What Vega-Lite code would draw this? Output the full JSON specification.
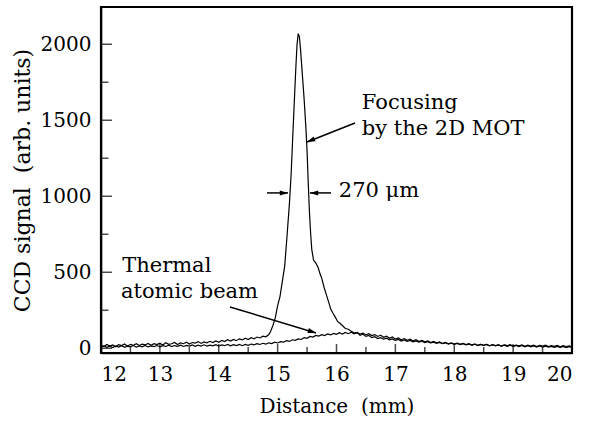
{
  "$schema": "https://vega.github.io/schema/vega-lite/v6.json",
  "width": 471,
  "height": 346,
  "autosize": {"type": "none"},
  "padding": {"left": 101, "top": 7, "right": 18, "bottom": 76},
  "background": "white",
  "config": {
    "view": {"stroke": "black", "strokeWidth": 2.2},
    "axis": {
      "labelFont": "DejaVu Serif", "titleFont": "DejaVu Serif",
      "labelFontSize": 20, "titleFontSize": 20, "titleFontWeight": "normal",
      "labelColor": "black", "titleColor": "black", "ticks": false, "tickSize": 0,
      "domainColor": "black", "domainWidth": 1.5, "grid": false, "labelOverlap": false
    }
  },
  "datasets": {
    "curves": [
      {"x":12.00,"y":20,"s":"F"},{"x":12.05,"y":12,"s":"F"},{"x":12.10,"y":25,"s":"F"},{"x":12.15,"y":15,"s":"F"},{"x":12.20,"y":22,"s":"F"},{"x":12.25,"y":10,"s":"F"},{"x":12.30,"y":24,"s":"F"},{"x":12.35,"y":18,"s":"F"},{"x":12.40,"y":28,"s":"F"},{"x":12.45,"y":14,"s":"F"},{"x":12.50,"y":26,"s":"F"},{"x":12.55,"y":20,"s":"F"},{"x":12.60,"y":30,"s":"F"},{"x":12.65,"y":18,"s":"F"},{"x":12.70,"y":27,"s":"F"},{"x":12.75,"y":22,"s":"F"},{"x":12.80,"y":32,"s":"F"},{"x":12.85,"y":20,"s":"F"},{"x":12.90,"y":30,"s":"F"},{"x":12.95,"y":24,"s":"F"},{"x":13.00,"y":34,"s":"F"},{"x":13.05,"y":22,"s":"F"},{"x":13.10,"y":36,"s":"F"},{"x":13.15,"y":26,"s":"F"},{"x":13.20,"y":30,"s":"F"},{"x":13.25,"y":38,"s":"F"},{"x":13.30,"y":25,"s":"F"},{"x":13.35,"y":36,"s":"F"},{"x":13.40,"y":30,"s":"F"},{"x":13.45,"y":40,"s":"F"},{"x":13.50,"y":28,"s":"F"},{"x":13.55,"y":38,"s":"F"},{"x":13.60,"y":34,"s":"F"},{"x":13.65,"y":44,"s":"F"},{"x":13.70,"y":32,"s":"F"},{"x":13.75,"y":42,"s":"F"},{"x":13.80,"y":36,"s":"F"},{"x":13.85,"y":46,"s":"F"},{"x":13.90,"y":38,"s":"F"},{"x":13.95,"y":48,"s":"F"},{"x":14.00,"y":40,"s":"F"},{"x":14.05,"y":52,"s":"F"},{"x":14.10,"y":44,"s":"F"},{"x":14.15,"y":56,"s":"F"},{"x":14.20,"y":48,"s":"F"},{"x":14.25,"y":58,"s":"F"},{"x":14.30,"y":50,"s":"F"},{"x":14.35,"y":62,"s":"F"},{"x":14.40,"y":55,"s":"F"},{"x":14.45,"y":66,"s":"F"},{"x":14.50,"y":58,"s":"F"},{"x":14.55,"y":70,"s":"F"},{"x":14.60,"y":62,"s":"F"},{"x":14.65,"y":74,"s":"F"},{"x":14.70,"y":68,"s":"F"},{"x":14.75,"y":80,"s":"F"},{"x":14.80,"y":76,"s":"F"},{"x":14.85,"y":90,"s":"F"},{"x":14.88,"y":110,"s":"F"},{"x":14.92,"y":150,"s":"F"},{"x":14.96,"y":200,"s":"F"},{"x":15.00,"y":280,"s":"F"},{"x":15.04,"y":340,"s":"F"},{"x":15.08,"y":440,"s":"F"},{"x":15.12,"y":540,"s":"F"},{"x":15.16,"y":740,"s":"F"},{"x":15.20,"y":950,"s":"F"},{"x":15.23,"y":1150,"s":"F"},{"x":15.26,"y":1420,"s":"F"},{"x":15.29,"y":1680,"s":"F"},{"x":15.31,"y":1850,"s":"F"},{"x":15.33,"y":2000,"s":"F"},{"x":15.35,"y":2070,"s":"F"},{"x":15.37,"y":2050,"s":"F"},{"x":15.39,"y":1960,"s":"F"},{"x":15.42,"y":1800,"s":"F"},{"x":15.45,"y":1640,"s":"F"},{"x":15.48,"y":1450,"s":"F"},{"x":15.50,"y":1300,"s":"F"},{"x":15.52,"y":1090,"s":"F"},{"x":15.54,"y":900,"s":"F"},{"x":15.56,"y":760,"s":"F"},{"x":15.58,"y":650,"s":"F"},{"x":15.61,"y":580,"s":"F"},{"x":15.65,"y":560,"s":"F"},{"x":15.69,"y":530,"s":"F"},{"x":15.72,"y":490,"s":"F"},{"x":15.75,"y":460,"s":"F"},{"x":15.79,"y":400,"s":"F"},{"x":15.83,"y":350,"s":"F"},{"x":15.87,"y":300,"s":"F"},{"x":15.90,"y":260,"s":"F"},{"x":15.94,"y":230,"s":"F"},{"x":15.98,"y":205,"s":"F"},{"x":16.02,"y":175,"s":"F"},{"x":16.06,"y":165,"s":"F"},{"x":16.10,"y":150,"s":"F"},{"x":16.15,"y":130,"s":"F"},{"x":16.20,"y":125,"s":"F"},{"x":16.25,"y":112,"s":"F"},{"x":16.30,"y":100,"s":"F"},{"x":16.35,"y":105,"s":"F"},{"x":16.40,"y":85,"s":"F"},{"x":16.45,"y":92,"s":"F"},{"x":16.50,"y":78,"s":"F"},{"x":16.55,"y":84,"s":"F"},{"x":16.60,"y":70,"s":"F"},{"x":16.65,"y":76,"s":"F"},{"x":16.70,"y":64,"s":"F"},{"x":16.75,"y":70,"s":"F"},{"x":16.80,"y":60,"s":"F"},{"x":16.85,"y":66,"s":"F"},{"x":16.90,"y":56,"s":"F"},{"x":16.95,"y":62,"s":"F"},{"x":17.00,"y":52,"s":"F"},{"x":17.05,"y":58,"s":"F"},{"x":17.10,"y":48,"s":"F"},{"x":17.15,"y":55,"s":"F"},{"x":17.20,"y":45,"s":"F"},{"x":17.25,"y":52,"s":"F"},{"x":17.30,"y":42,"s":"F"},{"x":17.35,"y":48,"s":"F"},{"x":17.40,"y":40,"s":"F"},{"x":17.45,"y":46,"s":"F"},{"x":17.50,"y":38,"s":"F"},{"x":17.55,"y":44,"s":"F"},{"x":17.60,"y":35,"s":"F"},{"x":17.65,"y":40,"s":"F"},{"x":17.70,"y":32,"s":"F"},{"x":17.75,"y":38,"s":"F"},{"x":17.80,"y":30,"s":"F"},{"x":17.85,"y":36,"s":"F"},{"x":17.90,"y":28,"s":"F"},{"x":17.95,"y":33,"s":"F"},{"x":18.00,"y":26,"s":"F"},{"x":18.05,"y":32,"s":"F"},{"x":18.10,"y":24,"s":"F"},{"x":18.15,"y":30,"s":"F"},{"x":18.20,"y":22,"s":"F"},{"x":18.25,"y":28,"s":"F"},{"x":18.30,"y":20,"s":"F"},{"x":18.35,"y":27,"s":"F"},{"x":18.40,"y":18,"s":"F"},{"x":18.45,"y":26,"s":"F"},{"x":18.50,"y":20,"s":"F"},{"x":18.55,"y":25,"s":"F"},{"x":18.60,"y":16,"s":"F"},{"x":18.65,"y":24,"s":"F"},{"x":18.70,"y":18,"s":"F"},{"x":18.75,"y":23,"s":"F"},{"x":18.80,"y":15,"s":"F"},{"x":18.85,"y":22,"s":"F"},{"x":18.90,"y":17,"s":"F"},{"x":18.95,"y":24,"s":"F"},{"x":19.00,"y":14,"s":"F"},{"x":19.05,"y":21,"s":"F"},{"x":19.10,"y":16,"s":"F"},{"x":19.15,"y":22,"s":"F"},{"x":19.20,"y":13,"s":"F"},{"x":19.25,"y":20,"s":"F"},{"x":19.30,"y":15,"s":"F"},{"x":19.35,"y":21,"s":"F"},{"x":19.40,"y":12,"s":"F"},{"x":19.45,"y":19,"s":"F"},{"x":19.50,"y":14,"s":"F"},{"x":19.55,"y":20,"s":"F"},{"x":19.60,"y":11,"s":"F"},{"x":19.65,"y":18,"s":"F"},{"x":19.70,"y":13,"s":"F"},{"x":19.75,"y":19,"s":"F"},{"x":19.80,"y":10,"s":"F"},{"x":19.85,"y":17,"s":"F"},{"x":19.90,"y":12,"s":"F"},{"x":19.95,"y":16,"s":"F"},{"x":20.00,"y":10,"s":"F"},
      {"x":12.00,"y":8,"s":"T"},{"x":12.05,"y":16,"s":"T"},{"x":12.10,"y":6,"s":"T"},{"x":12.15,"y":14,"s":"T"},{"x":12.20,"y":5,"s":"T"},{"x":12.25,"y":15,"s":"T"},{"x":12.30,"y":8,"s":"T"},{"x":12.35,"y":17,"s":"T"},{"x":12.40,"y":7,"s":"T"},{"x":12.45,"y":14,"s":"T"},{"x":12.50,"y":9,"s":"T"},{"x":12.55,"y":18,"s":"T"},{"x":12.60,"y":8,"s":"T"},{"x":12.65,"y":15,"s":"T"},{"x":12.70,"y":10,"s":"T"},{"x":12.75,"y":19,"s":"T"},{"x":12.80,"y":9,"s":"T"},{"x":12.85,"y":16,"s":"T"},{"x":12.90,"y":11,"s":"T"},{"x":12.95,"y":18,"s":"T"},{"x":13.00,"y":10,"s":"T"},{"x":13.05,"y":17,"s":"T"},{"x":13.10,"y":12,"s":"T"},{"x":13.15,"y":20,"s":"T"},{"x":13.20,"y":11,"s":"T"},{"x":13.25,"y":18,"s":"T"},{"x":13.30,"y":13,"s":"T"},{"x":13.35,"y":21,"s":"T"},{"x":13.40,"y":12,"s":"T"},{"x":13.45,"y":19,"s":"T"},{"x":13.50,"y":14,"s":"T"},{"x":13.55,"y":22,"s":"T"},{"x":13.60,"y":13,"s":"T"},{"x":13.65,"y":20,"s":"T"},{"x":13.70,"y":15,"s":"T"},{"x":13.75,"y":23,"s":"T"},{"x":13.80,"y":14,"s":"T"},{"x":13.85,"y":21,"s":"T"},{"x":13.90,"y":16,"s":"T"},{"x":13.95,"y":24,"s":"T"},{"x":14.00,"y":15,"s":"T"},{"x":14.05,"y":22,"s":"T"},{"x":14.10,"y":17,"s":"T"},{"x":14.15,"y":25,"s":"T"},{"x":14.20,"y":16,"s":"T"},{"x":14.25,"y":24,"s":"T"},{"x":14.30,"y":18,"s":"T"},{"x":14.35,"y":26,"s":"T"},{"x":14.40,"y":17,"s":"T"},{"x":14.45,"y":25,"s":"T"},{"x":14.50,"y":20,"s":"T"},{"x":14.55,"y":28,"s":"T"},{"x":14.60,"y":22,"s":"T"},{"x":14.65,"y":30,"s":"T"},{"x":14.70,"y":25,"s":"T"},{"x":14.75,"y":33,"s":"T"},{"x":14.80,"y":28,"s":"T"},{"x":14.85,"y":36,"s":"T"},{"x":14.90,"y":31,"s":"T"},{"x":14.95,"y":40,"s":"T"},{"x":15.00,"y":35,"s":"T"},{"x":15.05,"y":44,"s":"T"},{"x":15.10,"y":40,"s":"T"},{"x":15.15,"y":50,"s":"T"},{"x":15.20,"y":45,"s":"T"},{"x":15.25,"y":56,"s":"T"},{"x":15.30,"y":52,"s":"T"},{"x":15.35,"y":62,"s":"T"},{"x":15.40,"y":58,"s":"T"},{"x":15.45,"y":70,"s":"T"},{"x":15.50,"y":66,"s":"T"},{"x":15.55,"y":78,"s":"T"},{"x":15.60,"y":74,"s":"T"},{"x":15.65,"y":85,"s":"T"},{"x":15.70,"y":80,"s":"T"},{"x":15.75,"y":90,"s":"T"},{"x":15.80,"y":84,"s":"T"},{"x":15.85,"y":95,"s":"T"},{"x":15.90,"y":88,"s":"T"},{"x":15.95,"y":98,"s":"T"},{"x":16.00,"y":92,"s":"T"},{"x":16.05,"y":102,"s":"T"},{"x":16.10,"y":94,"s":"T"},{"x":16.15,"y":104,"s":"T"},{"x":16.20,"y":96,"s":"T"},{"x":16.25,"y":106,"s":"T"},{"x":16.30,"y":95,"s":"T"},{"x":16.35,"y":103,"s":"T"},{"x":16.40,"y":93,"s":"T"},{"x":16.45,"y":100,"s":"T"},{"x":16.50,"y":88,"s":"T"},{"x":16.55,"y":96,"s":"T"},{"x":16.60,"y":84,"s":"T"},{"x":16.65,"y":90,"s":"T"},{"x":16.70,"y":78,"s":"T"},{"x":16.75,"y":86,"s":"T"},{"x":16.80,"y":72,"s":"T"},{"x":16.85,"y":80,"s":"T"},{"x":16.90,"y":66,"s":"T"},{"x":16.95,"y":74,"s":"T"},{"x":17.00,"y":60,"s":"T"},{"x":17.05,"y":68,"s":"T"},{"x":17.10,"y":56,"s":"T"},{"x":17.15,"y":64,"s":"T"},{"x":17.20,"y":52,"s":"T"},{"x":17.25,"y":60,"s":"T"},{"x":17.30,"y":48,"s":"T"},{"x":17.35,"y":56,"s":"T"},{"x":17.40,"y":44,"s":"T"},{"x":17.45,"y":52,"s":"T"},{"x":17.50,"y":42,"s":"T"},{"x":17.55,"y":48,"s":"T"},{"x":17.60,"y":38,"s":"T"},{"x":17.65,"y":45,"s":"T"},{"x":17.70,"y":35,"s":"T"},{"x":17.75,"y":42,"s":"T"},{"x":17.80,"y":32,"s":"T"},{"x":17.85,"y":39,"s":"T"},{"x":17.90,"y":30,"s":"T"},{"x":17.95,"y":36,"s":"T"},{"x":18.00,"y":28,"s":"T"},{"x":18.05,"y":34,"s":"T"},{"x":18.10,"y":26,"s":"T"},{"x":18.15,"y":32,"s":"T"},{"x":18.20,"y":24,"s":"T"},{"x":18.25,"y":30,"s":"T"},{"x":18.30,"y":22,"s":"T"},{"x":18.35,"y":28,"s":"T"},{"x":18.40,"y":20,"s":"T"},{"x":18.45,"y":26,"s":"T"},{"x":18.50,"y":19,"s":"T"},{"x":18.55,"y":25,"s":"T"},{"x":18.60,"y":17,"s":"T"},{"x":18.65,"y":23,"s":"T"},{"x":18.70,"y":16,"s":"T"},{"x":18.75,"y":22,"s":"T"},{"x":18.80,"y":14,"s":"T"},{"x":18.85,"y":21,"s":"T"},{"x":18.90,"y":13,"s":"T"},{"x":18.95,"y":20,"s":"T"},{"x":19.00,"y":12,"s":"T"},{"x":19.05,"y":19,"s":"T"},{"x":19.10,"y":11,"s":"T"},{"x":19.15,"y":18,"s":"T"},{"x":19.20,"y":10,"s":"T"},{"x":19.25,"y":17,"s":"T"},{"x":19.30,"y":9,"s":"T"},{"x":19.35,"y":16,"s":"T"},{"x":19.40,"y":8,"s":"T"},{"x":19.45,"y":15,"s":"T"},{"x":19.50,"y":8,"s":"T"},{"x":19.55,"y":14,"s":"T"},{"x":19.60,"y":7,"s":"T"},{"x":19.65,"y":13,"s":"T"},{"x":19.70,"y":6,"s":"T"},{"x":19.75,"y":12,"s":"T"},{"x":19.80,"y":6,"s":"T"},{"x":19.85,"y":12,"s":"T"},{"x":19.90,"y":5,"s":"T"},{"x":19.95,"y":11,"s":"T"},{"x":20.00,"y":5,"s":"T"}
    ],
    "labels": [
      {"x":16.43,"y":1614,"t":"Focusing"},
      {"x":16.43,"y":1443,"t":"by the 2D MOT"},
      {"x":16.04,"y":1035,"t":"270 μm"},
      {"x":12.36,"y":541,"t":"Thermal"},
      {"x":12.34,"y":370,"t":"atomic beam"}
    ],
    "arrows": [
      {"x":16.314,"y":1482,"x2":15.499,"y2":1357,"hx":15.562,"hy":1367,"a":248.4},
      {"x":14.82,"y":1022,"x2":15.176,"y2":1022,"hx":15.108,"hy":1022,"a":90},
      {"x":15.907,"y":1022,"x2":15.55,"y2":1022,"hx":15.618,"hy":1022,"a":270},
      {"x":14.191,"y":272,"x2":15.652,"y2":101,"hx":15.587,"hy":109,"a":106.8}
    ],
    "xticks": [
      {"v":12,"k":"major"},{"v":13,"k":"major"},{"v":14,"k":"major"},{"v":15,"k":"major"},{"v":16,"k":"major"},{"v":17,"k":"major"},{"v":18,"k":"major"},{"v":19,"k":"major"},{"v":20,"k":"major"},
      {"v":12.5,"k":"minor"},{"v":13.5,"k":"minor"},{"v":14.5,"k":"minor"},{"v":15.5,"k":"minor"},{"v":16.5,"k":"minor"},{"v":17.5,"k":"minor"},{"v":18.5,"k":"minor"},{"v":19.5,"k":"minor"}
    ],
    "yticks": [
      {"v":0,"k":"major"},{"v":500,"k":"major"},{"v":1000,"k":"major"},{"v":1500,"k":"major"},{"v":2000,"k":"major"},
      {"v":250,"k":"minor"},{"v":750,"k":"minor"},{"v":1250,"k":"minor"},{"v":1750,"k":"minor"}
    ]
  },
  "layer": [
    {
      "data": {"name": "curves"},
      "mark": {"type": "line", "color": "black", "strokeWidth": 1.2, "clip": true},
      "encoding": {
        "x": {"field": "x", "type": "quantitative", "scale": {"domain": [12, 20], "nice": false, "zero": false},
          "axis": {"title": "Distance \u00a0(mm)", "format": "d", "values": [12,13,14,15,16,17,18,19,20], "labelPadding": 11, "titlePadding": 12, "orient": "bottom"}},
        "y": {"field": "y", "type": "quantitative", "scale": {"domain": [-31, 2245], "nice": false, "zero": false},
          "axis": {"title": "CCD signal \u00a0(arb. units)", "titleFontSize": 22, "format": "d", "values": [0,500,1000,1500,2000], "labelPadding": 10, "titlePadding": 6, "orient": "left"}},
        "detail": {"field": "s"}
      }
    },
    {
      "data": {"name": "xticks"},
      "transform": [{"filter": "datum.k == 'major'"}],
      "mark": {"type": "tick", "orient": "vertical", "color": "black", "size": 9, "thickness": 1.5, "yOffset": -4.5},
      "encoding": {"x": {"field": "v", "type": "quantitative"}, "y": {"datum": -31, "type": "quantitative"}}
    },
    {
      "data": {"name": "xticks"},
      "transform": [{"filter": "datum.k == 'minor'"}],
      "mark": {"type": "tick", "orient": "vertical", "color": "black", "size": 6, "thickness": 1.5, "yOffset": -3},
      "encoding": {"x": {"field": "v", "type": "quantitative"}, "y": {"datum": -31, "type": "quantitative"}}
    },
    {
      "data": {"name": "yticks"},
      "transform": [{"filter": "datum.k == 'major'"}],
      "mark": {"type": "tick", "orient": "horizontal", "color": "black", "size": 11, "thickness": 1.5, "xOffset": 5.5},
      "encoding": {"y": {"field": "v", "type": "quantitative"}, "x": {"datum": 12, "type": "quantitative"}}
    },
    {
      "data": {"name": "yticks"},
      "transform": [{"filter": "datum.k == 'minor'"}],
      "mark": {"type": "tick", "orient": "horizontal", "color": "black", "size": 7.5, "thickness": 1.5, "xOffset": 3.75},
      "encoding": {"y": {"field": "v", "type": "quantitative"}, "x": {"datum": 12, "type": "quantitative"}}
    },
    {
      "data": {"name": "labels"},
      "mark": {"type": "text", "font": "DejaVu Serif", "fontSize": 21, "align": "left", "baseline": "middle", "color": "black"},
      "encoding": {
        "x": {"field": "x", "type": "quantitative"},
        "y": {"field": "y", "type": "quantitative"},
        "text": {"field": "t"}
      }
    },
    {
      "data": {"name": "arrows"},
      "mark": {"type": "rule", "color": "black", "strokeWidth": 1.5},
      "encoding": {
        "x": {"field": "x", "type": "quantitative"},
        "y": {"field": "y", "type": "quantitative"},
        "x2": {"field": "x2"},
        "y2": {"field": "y2"}
      }
    },
    {
      "data": {"name": "arrows"},
      "mark": {"type": "point", "filled": true, "color": "black", "opacity": 1, "size": 70, "shape": "M0,-1L0.6,1L-0.6,1Z"},
      "encoding": {
        "x": {"field": "hx", "type": "quantitative"},
        "y": {"field": "hy", "type": "quantitative"},
        "angle": {"field": "a", "type": "quantitative", "scale": null}
      }
    }
  ]
}
